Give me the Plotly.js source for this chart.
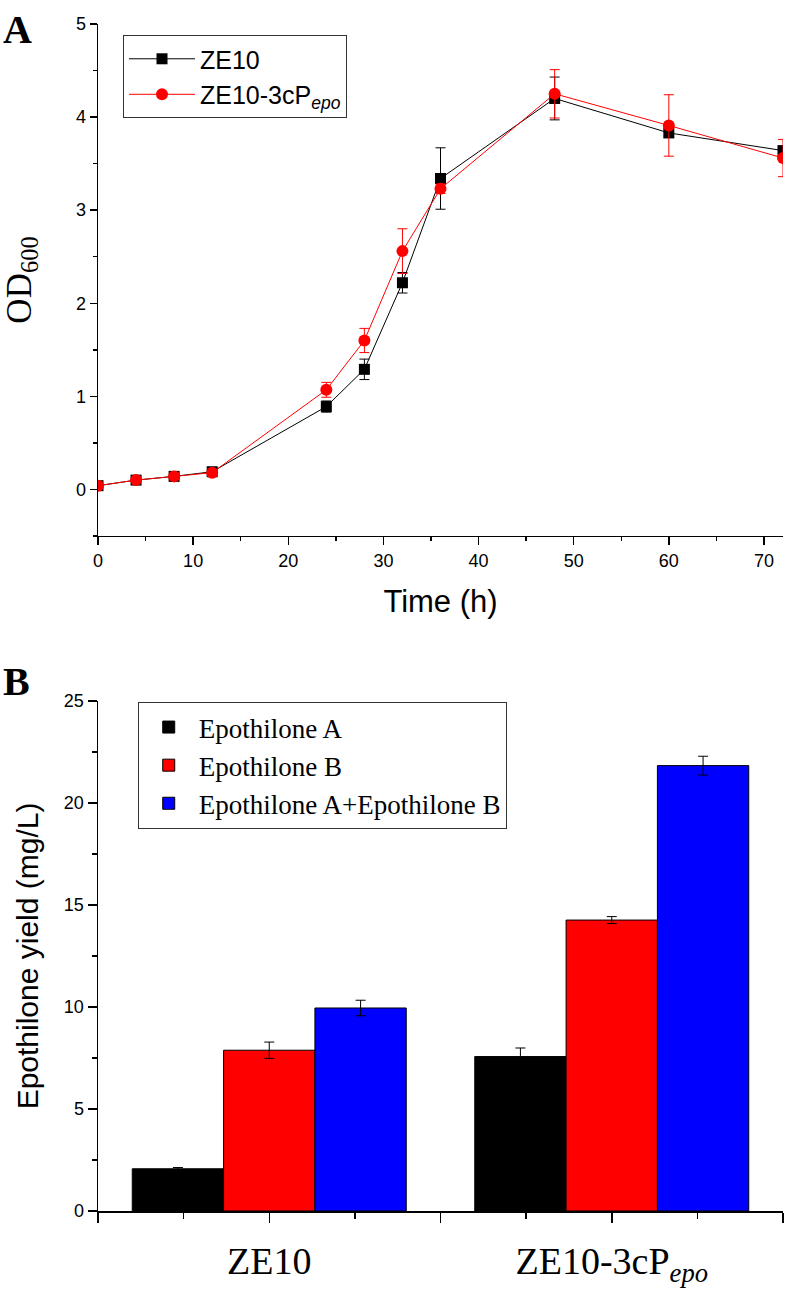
<!DOCTYPE html>
<html>
<head>
<meta charset="utf-8">
<script src="https://cdn.plot.ly/plotly-3.0.1.min.js"></script>
<style>html,body{margin:0;padding:0;background:#fff;}#chart{width:788px;height:1294px;}</style>
</head>
<body>
<div id="chart"></div>
<script>
// ---------- Panel A: growth curve ----------
var timeH = [0, 4, 8, 12, 24, 28, 32, 36, 48, 60, 72];
var odZE10 = [0.04, 0.10, 0.14, 0.19, 0.89, 1.29, 2.22, 3.34, 4.20, 3.83, 3.64];
var odZE10Err = [0.01, 0.02, 0.02, 0.03, 0.06, 0.11, 0.11, 0.33, 0.23, 0.05, 0.04];
var odZE10cP = [0.04, 0.10, 0.14, 0.18, 1.07, 1.60, 2.56, 3.23, 4.25, 3.91, 3.56];
var odZE10cPErr = [0.01, 0.02, 0.02, 0.02, 0.08, 0.13, 0.24, 0.05, 0.26, 0.33, 0.20];
var seriesNamesA = ['ZE10', 'ZE10-3cP<sub><i>epo</i></sub>'];

// ---------- Panel B: epothilone yield ----------
var strains = ['ZE10', 'ZE10-3cP<sub><i>epo</i></sub>'];
var epoA = [2.07, 7.57];
var epoAErr = [0.06, 0.42];
var epoB = [7.88, 14.26];
var epoBErr = [0.40, 0.17];
var epoAB = [9.95, 21.83];
var epoABErr = [0.38, 0.46];
var seriesNamesB = ['Epothilone A', 'Epothilone B', 'Epothilone A+Epothilone B'];

var strainPos = strains.map(function (s, i) { return i + 1; });

var traces = [
  {
    x: timeH, y: odZE10, name: seriesNamesA[0], type: 'scatter', mode: 'lines+markers',
    xaxis: 'x', yaxis: 'y', legend: 'legend',
    line: {color: '#000000', width: 1},
    marker: {symbol: 'square', size: 11, color: '#000000'},
    error_y: {type: 'data', array: odZE10Err, visible: true, color: '#000000', thickness: 1, width: 5}
  },
  {
    x: timeH, y: odZE10cP, name: seriesNamesA[1], type: 'scatter', mode: 'lines+markers',
    xaxis: 'x', yaxis: 'y', legend: 'legend',
    line: {color: '#ff0000', width: 1},
    marker: {symbol: 'circle', size: 12, color: '#ff0000'},
    error_y: {type: 'data', array: odZE10cPErr, visible: true, color: '#ff0000', thickness: 1, width: 5}
  },
  {
    x: strainPos, y: epoA, name: seriesNamesB[0], type: 'bar', xaxis: 'x2', yaxis: 'y2', legend: 'legend2',
    marker: {color: '#000000', line: {color: '#000000', width: 1}},
    error_y: {type: 'data', array: epoAErr, visible: true, color: '#000000', thickness: 1, width: 5}
  },
  {
    x: strainPos, y: epoB, name: seriesNamesB[1], type: 'bar', xaxis: 'x2', yaxis: 'y2', legend: 'legend2',
    marker: {color: '#ff0000', line: {color: '#000000', width: 1}},
    error_y: {type: 'data', array: epoBErr, visible: true, color: '#000000', thickness: 1, width: 5}
  },
  {
    x: strainPos, y: epoAB, name: seriesNamesB[2], type: 'bar', xaxis: 'x2', yaxis: 'y2', legend: 'legend2',
    marker: {color: '#0000ff', line: {color: '#000000', width: 1}},
    error_y: {type: 'data', array: epoABErr, visible: true, color: '#000000', thickness: 1, width: 5}
  }
];

var axisBase = {
  showline: true, linecolor: '#000000', linewidth: 1.5, showgrid: false, zeroline: false,
  ticks: 'outside', tickcolor: '#000000', tickwidth: 1.5, automargin: false
};

function ax(extra) { return Object.assign({}, axisBase, extra); }

var layout = {
  width: 788, height: 1294,
  paper_bgcolor: '#ffffff', plot_bgcolor: '#ffffff',
  margin: {l: 98, r: 5, t: 24, b: 83},
  showlegend: true,
  barmode: 'group', bargap: 0.2, bargroupgap: 0,
  xaxis: ax({
    domain: [0, 1], anchor: 'y', range: [0, 72], tick0: 0, dtick: 10, ticklen: 8,
    tickfont: {family: 'Arial', size: 18, color: '#000'},
    minor: {dtick: 5, ticks: 'outside', ticklen: 4, tickwidth: 1.5, tickcolor: '#000'},
    title: {text: 'Time (h)', font: {family: 'Arial', size: 31, color: '#000'}, standoff: 20}
  }),
  yaxis: ax({
    domain: [0.5687, 1], anchor: 'x', range: [-0.5, 5], tick0: 0, dtick: 1, ticklen: 7,
    tickfont: {family: 'Arial', size: 18, color: '#000'},
    minor: {dtick: 0.5, ticks: 'outside', ticklen: 4, tickwidth: 1.5, tickcolor: '#000'},
    title: {text: 'OD<sub>600</sub>', font: {family: 'Liberation Serif', size: 35, color: '#000'}, standoff: 40}
  }),
  xaxis2: ax({
    domain: [0, 1], anchor: 'y2', range: [0.5, 2.5],
    tickmode: 'array',
    tickvals: [0.5].concat(strainPos.reduce(function (a, p) { return a.concat([p, p + 0.5]); }, [])),
    ticktext: [''].concat(strains.reduce(function (a, s) { return a.concat([s, '']); }, [])),
    ticklen: 10, ticklabelstandoff: 6,
    tickfont: {family: 'Liberation Serif', size: 38, color: '#000'},
    minor: {tickmode: 'linear', tick0: 0.5, dtick: 0.25, ticks: 'outside', ticklen: 6, tickwidth: 1.5, tickcolor: '#000'}
  }),
  yaxis2: ax({
    domain: [0, 0.4297], anchor: 'x2', range: [0, 25], tick0: 0, dtick: 5, ticklen: 9,
    tickfont: {family: 'Arial', size: 18, color: '#000'},
    minor: {dtick: 2.5, ticks: 'outside', ticklen: 5, tickwidth: 1.5, tickcolor: '#000'},
    title: {text: 'Epothilone yield (mg/L)', font: {family: 'Arial', size: 30, color: '#000'}, standoff: 16}
  }),
  legend: {
    x: 0.0365, y: 0.9907, xanchor: 'left', yanchor: 'top',
    bgcolor: '#ffffff', bordercolor: '#333333', borderwidth: 1,
    font: {family: 'Arial', size: 25, color: '#000'}, itemwidth: 66, tracegroupgap: 0
  },
  legend2: {
    x: 0.058, y: 0.4288, xanchor: 'left', yanchor: 'top',
    bgcolor: '#ffffff', bordercolor: '#333333', borderwidth: 1,
    font: {family: 'Liberation Serif', size: 27, color: '#000'}, itemwidth: 50
  },
  annotations: [
    {text: '<b>A</b>', xref: 'paper', yref: 'paper', x: -0.141, y: 1.016, xanchor: 'left', yanchor: 'top',
     showarrow: false, font: {family: 'Liberation Serif', size: 40, color: '#000'}},
    {text: '<b>B</b>', xref: 'paper', yref: 'paper', x: -0.141, y: 0.467, xanchor: 'left', yanchor: 'top',
     showarrow: false, font: {family: 'Liberation Serif', size: 40, color: '#000'}}
  ]
};

Plotly.newPlot('chart', traces, layout, {displayModeBar: false, staticPlot: true});
</script>
</body>
</html>
